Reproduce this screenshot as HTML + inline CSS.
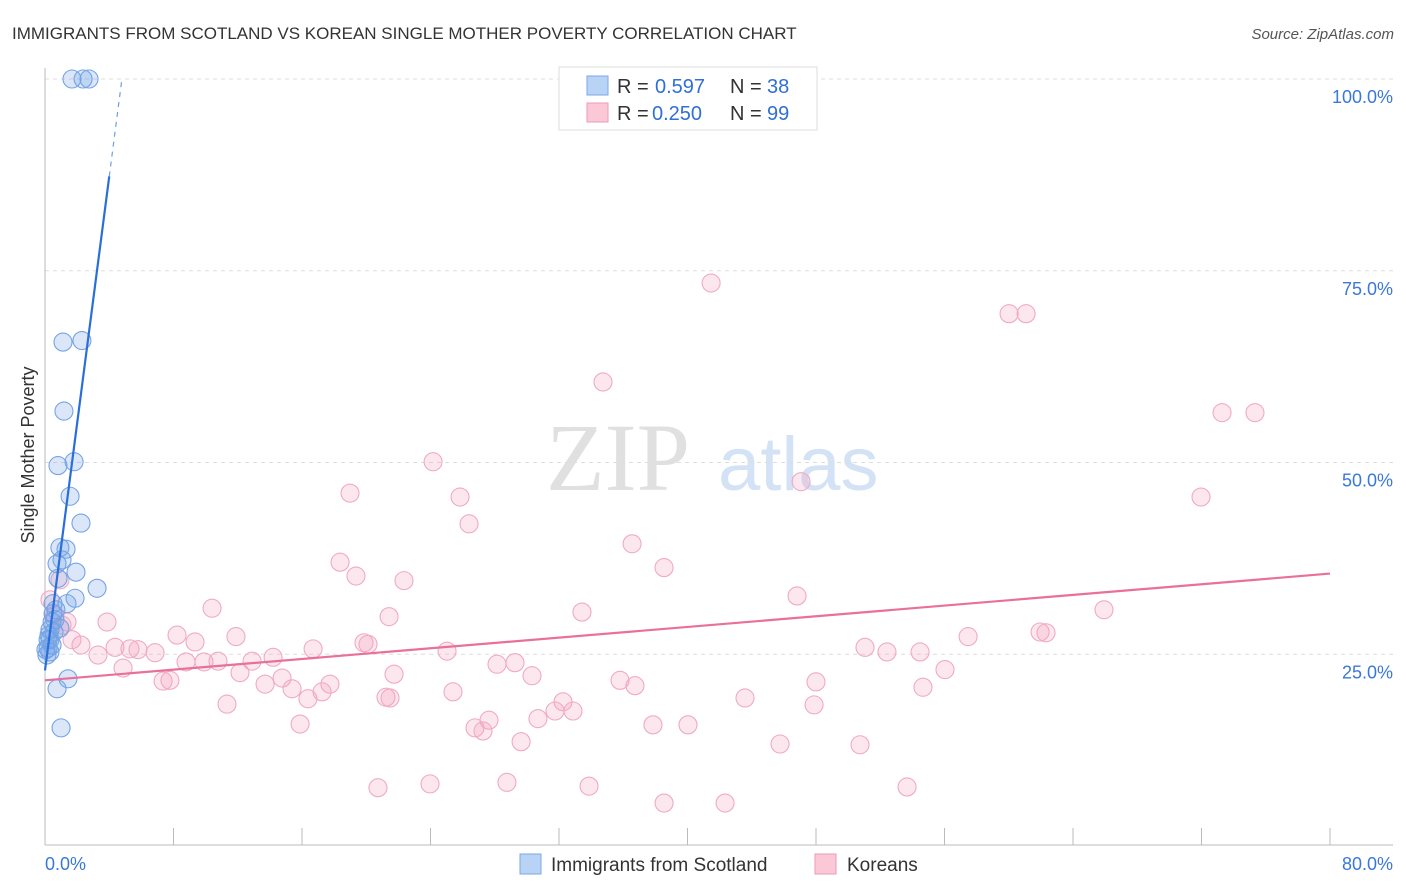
<!DOCTYPE html>
<html><head><meta charset="utf-8"><style>
body{margin:0;background:#fff;font-family:"Liberation Sans",sans-serif;}
svg{display:block}
</style></head><body>
<svg id="c" width="1406" height="892">
<text x="12" y="39" font-size="17" fill="#333">IMMIGRANTS FROM SCOTLAND VS KOREAN SINGLE MOTHER POVERTY CORRELATION CHART</text>
<text x="1394" y="39" font-size="15" fill="#555" font-style="italic" text-anchor="end">Source: ZipAtlas.com</text>
<g>
<text x="690" y="490" font-size="96" font-family="Liberation Serif,serif" fill="#e0e0e0" text-anchor="end">ZIP</text>
<text x="718" y="490" font-size="76" fill="#d3e2f5">atlas</text>
</g>
<g id="grid"></g>
<g id="marks"></g>
<text transform="translate(34,455) rotate(-90)" font-size="18" fill="#333" text-anchor="middle">Single Mother Poverty</text>
<g>
<rect x="559" y="67" width="258" height="63" fill="#fff" stroke="#ddd"/>
<rect x="587" y="76" width="21" height="19" fill="#b8d3f5" stroke="#7aa8e6"/>
<text x="617" y="93" font-size="20" fill="#333">R = </text><text x="655" y="93" font-size="20" fill="#2f6fd6">0.597</text>
<text x="730" y="93" font-size="20" fill="#333">N = </text><text x="767" y="93" font-size="20" fill="#2f6fd6">38</text>
<rect x="587" y="103" width="21" height="19" fill="#fbc8d8" stroke="#ee9ab6"/>
<text x="617" y="120" font-size="20" fill="#333">R = </text><text x="652" y="120" font-size="20" fill="#2f6fd6">0.250</text>
<text x="730" y="120" font-size="20" fill="#333">N = </text><text x="767" y="120" font-size="20" fill="#2f6fd6">99</text>
</g>
<g>
<rect x="520" y="854" width="21" height="20" fill="#b8d3f5" stroke="#7aa8e6"/>
<text x="551" y="871" font-size="19" fill="#333">Immigrants from Scotland</text>
<rect x="815" y="854" width="21" height="20" fill="#fbc8d8" stroke="#ee9ab6"/>
<text x="847" y="871" font-size="19" fill="#333">Koreans</text>
</g>
</svg>
<script>
const yTicks=[25,50,75,100];
const yTickLabels=["25.0%","50.0%","75.0%","100.0%"];
const xTicks=[0,8,16,24,32,40,48,56,64,72,80];
const xEndLabels=["0.0%","80.0%"];
const blueX=[1.68,2.37,2.74,1.12,2.30,1.18,0.81,1.81,1.56,2.24,0.93,1.31,1.93,0.75,3.24,0.81,1.87,1.37,0.50,0.50,0.44,0.93,0.31,0.19,0.44,0.19,0.31,0.06,1.43,0.75,1.00,0.62,0.25,0.68,1.06,0.12,0.56,0.31];
const blueY=[100,100,100,65.7,65.9,56.7,49.6,50.1,45.6,42.1,38.9,38.7,35.7,36.8,33.6,34.9,32.3,31.6,31.6,30.3,29.2,28.4,28.2,26.9,26.2,25.8,26.9,25.6,21.8,20.5,15.4,29.5,27.5,30.8,37.3,24.9,27.9,25.3];
const pinkX=[41.47,60.02,61.08,34.74,73.28,75.33,24.16,47.07,18.99,25.84,71.97,26.40,36.55,18.37,38.54,19.36,22.35,46.82,10.40,65.93,33.43,21.42,3.86,1.37,61.95,62.32,8.22,11.89,57.47,19.86,20.11,9.34,16.69,51.05,52.42,54.48,25.03,4.36,5.29,5.79,6.85,3.30,2.24,1.68,14.20,8.78,9.90,10.77,12.89,28.14,29.26,4.86,56.03,12.14,21.73,30.32,14.76,35.80,48.00,7.35,7.78,13.70,17.74,15.38,36.73,17.25,54.66,25.40,21.23,21.48,16.37,43.58,32.25,11.33,31.75,32.87,47.88,30.69,27.64,26.77,27.27,15.88,37.85,40.03,29.64,45.76,50.74,20.73,23.97,28.76,33.87,53.67,38.54,42.34,0.93,0.62,1.06,0.31];
const pinkY=[73.4,69.4,69.4,60.5,56.5,56.5,50.1,47.5,46.0,45.5,45.5,42.0,39.4,37.0,36.3,35.2,34.6,32.6,31.0,30.8,30.5,29.9,29.2,29.2,27.9,27.8,27.5,27.3,27.3,26.5,26.3,26.6,25.7,25.9,25.3,25.3,25.4,25.9,25.7,25.6,25.2,24.9,26.2,26.9,24.6,24.0,24.0,24.1,24.1,23.7,23.9,23.2,23.0,22.6,22.4,22.2,21.9,21.6,21.4,21.5,21.6,21.1,21.1,20.5,20.9,20.1,20.7,20.1,19.4,19.3,19.2,19.3,18.8,18.5,17.6,17.6,18.4,16.6,16.4,15.4,15.0,15.9,15.8,15.8,13.6,13.3,13.2,7.6,8.1,8.3,7.8,7.7,5.6,5.6,34.7,30.1,28.8,32.1];
const blueTrend=[22.9,16.1];   // intercept, slope
const pinkTrend=[21.6,0.174];
const X0=45,X1=1330,Y0=846,Y100=79;
const sx=v=>X0+(v/80)*(X1-X0);
const sy=v=>Y0-(v/100)*(Y0-Y100);
const NS="http://www.w3.org/2000/svg";
function mk(tag,attrs,parent){const e=document.createElementNS(NS,tag);for(const k in attrs)e.setAttribute(k,attrs[k]);parent.appendChild(e);return e;}
const grid=document.getElementById('grid'),marks=document.getElementById('marks');
yTicks.forEach((t,i)=>{
 const l=mk('line',{x1:X0,x2:1393,y1:sy(t),y2:sy(t),stroke:'#ddd','stroke-dasharray':'4,4'},grid);
 
 
 const tx=mk('text',{x:1393,y:sy(t)+24,'font-size':18,fill:'#3a78d8','text-anchor':'end'},grid);
 tx.textContent=yTickLabels[i];
 
 
});
const ax=mk('line',{x1:X0,x2:1393,y1:845,y2:845,stroke:'#bbb'},grid);


const ay=mk('line',{x1:X0,x2:X0,y1:68,y2:845,stroke:'#bbb'},grid);


xTicks.forEach(t=>{
 const l=mk('line',{x1:sx(t),x2:sx(t),y1:828,y2:845,stroke:'#bbb'},grid);
 
 
});
const xl0=mk('text',{x:45,y:870,'font-size':18,fill:'#3a78d8'},grid);xl0.textContent=xEndLabels[0];


const xl1=mk('text',{x:1393,y:870,'font-size':18,fill:'#3a78d8','text-anchor':'end'},grid);xl1.textContent=xEndLabels[1];


pinkX.forEach((x,i)=>{
 const c=mk('circle',{cx:sx(x),cy:sy(pinkY[i]),r:9,fill:'rgba(243,160,188,0.25)',stroke:'#f0aac2','stroke-width':1.1},marks);
 
 
});
blueX.forEach((x,i)=>{
 const c=mk('circle',{cx:sx(x),cy:sy(blueY[i]),r:9,fill:'rgba(110,160,230,0.25)',stroke:'#74a4e4','stroke-width':1.1},marks);
 
 
});
const pt=mk('line',{x1:sx(0),y1:sy(pinkTrend[0]),x2:sx(80),y2:sy(pinkTrend[0]+pinkTrend[1]*80),stroke:'#e8709a','stroke-width':2.2},marks);


const bEnd=4.0,bMax=(100-blueTrend[0])/blueTrend[1];
const bt=mk('line',{x1:sx(0),y1:sy(blueTrend[0]),x2:sx(bEnd),y2:sy(blueTrend[0]+blueTrend[1]*bEnd),stroke:'#2a6fd8','stroke-width':2.2},marks);


const bd=mk('line',{x1:sx(bEnd),y1:sy(blueTrend[0]+blueTrend[1]*bEnd),x2:sx(bMax),y2:sy(blueTrend[0]+blueTrend[1]*bMax),stroke:'#6d9fe3','stroke-width':1.2,'stroke-dasharray':'5,5'},marks);


</script>
</body></html>
